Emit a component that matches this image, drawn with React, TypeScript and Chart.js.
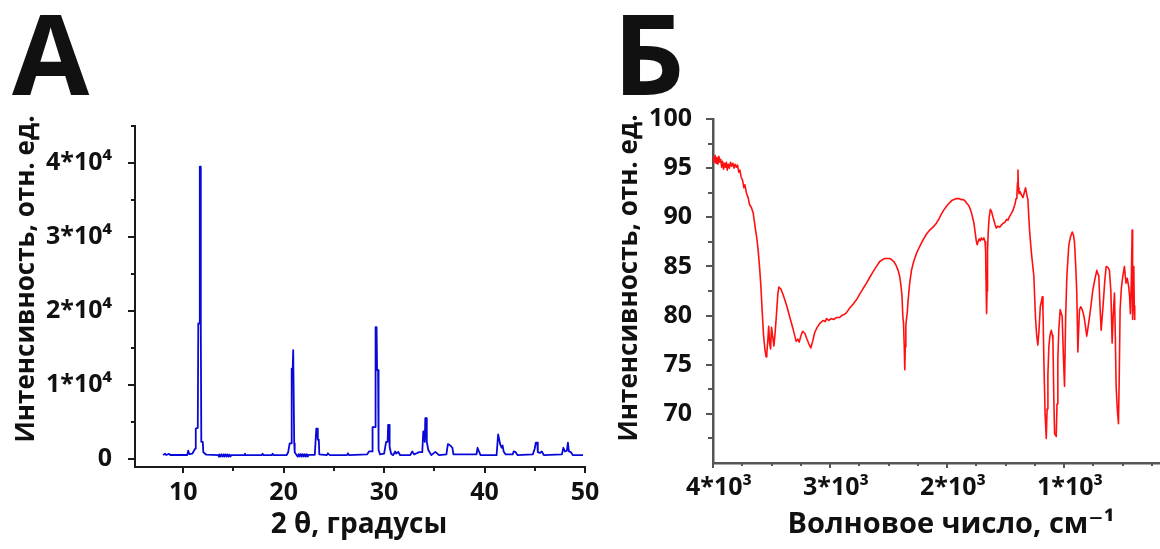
import React, { useEffect, useRef } from "react";
import { Chart, registerables } from "chart.js";

Chart.register(...registerables);

const FONT = "'Open Sans', 'DejaVu Sans', sans-serif";

// ---- Panel А: powder X-ray diffraction pattern ----
const xrdAngle = [
  8.0, 8.2, 8.3, 8.6, 8.7, 10.4, 10.5, 10.6, 10.9, 11.2, 11.25, 11.45, 11.5, 11.6, 11.65, 11.7, 11.75, 11.8, 11.95, 12.0, 12.3,
  13.5, 13.55, 13.6, 13.7, 13.8, 13.9, 14.0, 14.1, 14.2, 14.3, 14.4, 14.5, 14.6, 14.7, 14.8, 15.0,
  16.1, 16.15, 16.2, 17.8, 17.9, 18.0, 18.8, 18.9, 19.0,
  20.3, 20.45, 20.6, 20.75, 20.8, 20.9, 20.95, 21.0, 21.05, 21.1, 21.3,
  21.4, 21.5, 21.6, 21.7, 21.8, 21.9, 22.0, 22.1, 22.2, 22.3, 22.4, 22.5,
  23.1, 23.25, 23.35, 23.4, 23.5, 23.55, 24.3, 24.4, 24.6, 26.3, 26.4, 26.5,
  28.3, 28.5, 28.8, 28.85, 29.1, 29.15, 29.25, 29.3, 29.4, 29.45, 29.6,
  30.0, 30.2, 30.35, 30.4, 30.5, 30.55, 30.7, 30.9, 31.1, 31.2, 31.4, 31.6,
  32.6, 32.8, 33.0, 33.3, 33.5, 33.8, 33.9, 34.0, 34.05, 34.1, 34.2, 34.25, 34.4, 34.7,
  35.1, 35.3, 35.5, 36.2, 36.35, 36.6, 36.8, 36.9, 39.2, 39.3, 39.45, 39.6,
  41.2, 41.35, 41.45, 41.55, 41.7, 41.8, 41.9, 42.1, 42.8, 42.9, 43.1, 43.3,
  44.8, 45.0, 45.1, 45.25, 45.3, 45.5, 45.7, 45.9,
  47.7, 47.85, 48.0, 48.2, 48.3, 48.4, 48.6, 48.8, 49.8,
];
const xrdIntensity = [
  520, 700, 520, 680, 520, 520, 1100, 650, 700, 1400, 4100, 4200, 18300, 18300, 39500, 39500, 18300, 2300, 2300, 900, 560,
  500, 300, 600, 300, 620, 320, 600, 300, 620, 320, 600, 300, 580, 320, 500, 500,
  500, 700, 500, 500, 700, 500, 500, 700, 500,
  520, 900, 2100, 2100, 12200, 12200, 14700, 14700, 2100, 900, 500,
  300, 650, 320, 640, 300, 650, 320, 620, 300, 640, 320, 550,
  550, 4100, 4100, 2600, 2600, 600, 500, 750, 500, 500, 750, 500,
  600, 1000, 1000, 4300, 4300, 17800, 17800, 12000, 12000, 1200, 600,
  700, 2300, 2300, 4600, 4600, 1600, 700, 500, 1000, 700, 950, 500,
  500, 1000, 600, 800, 900, 900, 3700, 3700, 2300, 5500, 5500, 2300, 1200, 500,
  950, 700, 500, 600, 2000, 1800, 1500, 600, 600, 1500, 1000, 500,
  500, 3300, 2700, 2000, 1500, 1800, 1000, 600, 600, 1000, 900, 500,
  600, 1400, 2200, 2200, 900, 800, 1000, 500,
  600, 1500, 1000, 1100, 2200, 1000, 900, 500, 500,
];
const xrdXMajor = [10, 20, 30, 40, 50];
const xrdXMinor = [15, 25, 35, 45];
const xrdYMajor = [0, 10000, 20000, 30000, 40000];
const xrdYLabels = ["0", "1*10⁴", "2*10⁴", "3*10⁴", "4*10⁴"];
const xrdYMinor = [5000, 15000, 25000, 35000, 45000];

// ---- Panel Б: IR spectrum ----
const irWavenumber = [
  4000, 3990, 3982, 3974, 3966, 3958, 3950, 3942, 3934, 3926, 3918, 3910, 3902, 3894, 3886, 3878, 3870, 3860, 3850, 3840,
  3830, 3820, 3810, 3800, 3790, 3780, 3770, 3760, 3748, 3736, 3727, 3715, 3700, 3688, 3672, 3656, 3640, 3626, 3613, 3600,
  3590, 3580, 3568, 3556, 3546, 3540, 3532, 3524, 3516, 3508, 3500, 3490, 3480, 3470, 3456, 3446, 3437, 3420, 3400, 3370,
  3343, 3315, 3290, 3275, 3263, 3250, 3234, 3215, 3200, 3180, 3164, 3148, 3130, 3110, 3087, 3060, 3040, 3030, 3010, 2990,
  2970, 2944, 2920, 2900, 2880, 2859, 2830, 2800, 2774, 2750, 2720, 2688, 2660, 2630, 2603, 2575, 2550, 2532, 2510, 2490,
  2475, 2455, 2435, 2418, 2405, 2395, 2385, 2378, 2372, 2366, 2361, 2357, 2352, 2347, 2340, 2333, 2320, 2304, 2285, 2262,
  2235, 2205, 2175, 2148, 2120, 2091, 2070, 2050, 2030, 2006, 1985, 1960, 1940, 1920, 1900, 1880, 1860, 1849, 1830, 1815,
  1800, 1790, 1780, 1770, 1760, 1750, 1742, 1735, 1725, 1715, 1707, 1695, 1685, 1675, 1670, 1666, 1662, 1658, 1654, 1648,
  1640, 1630, 1620, 1607, 1590, 1579, 1565, 1550, 1536, 1520, 1505, 1490, 1480, 1465, 1450, 1437, 1420, 1410, 1403, 1398,
  1394, 1390, 1385, 1375, 1365, 1351, 1340, 1329, 1320, 1309, 1295, 1280, 1258, 1250, 1243, 1234, 1224, 1214, 1203, 1186,
  1180, 1172, 1162, 1152, 1145, 1138, 1130, 1120, 1109, 1100, 1095, 1088, 1081, 1067, 1060, 1053, 1045, 1033, 1016, 1006,
  996, 986, 976, 959, 945, 930, 920, 911, 900, 891, 882, 875, 868, 858, 845, 835, 825, 806, 795, 782,
  770, 754, 738, 720, 710, 703, 693, 683, 673, 663, 652, 640, 625, 612, 600, 589, 580, 569, 562, 555,
  545, 535, 528, 521, 510, 498, 484, 478, 470, 460, 447, 440, 433, 426, 418, 415, 413, 408, 404, 400, 396,
];
const irIntensity = [
  96.2, 95.6, 96.3, 95.5, 96.1, 95.4, 96.2, 95.6, 95.9, 95.1, 95.7, 94.9, 95.5, 95.1, 95.6, 94.8, 95.4, 95.0, 95.6, 95.2,
  95.5, 95.0, 95.4, 95.1, 95.3, 94.6, 94.8, 94.1, 93.8, 93.0, 93.3, 92.5, 92.0, 91.3, 91.0, 90.4, 89.0, 87.9, 86.5, 84.6,
  82.8, 80.5, 78.0, 76.5, 75.8, 76.2, 77.4, 78.9, 77.2, 76.6, 78.8, 77.9, 76.9, 78.1, 80.4, 82.2, 82.9, 82.7, 82.1, 81.0,
  79.8, 78.6, 77.4, 77.6, 77.3, 77.9, 78.4, 78.2, 77.7, 77.1, 76.7, 77.4, 78.3, 78.8, 79.2, 79.5, 79.4, 79.7, 79.5, 79.7,
  79.6, 79.8, 79.8, 80.0, 80.1, 80.3, 80.8, 81.2, 81.6, 82.1, 82.7, 83.3, 83.9, 84.5, 85.0, 85.5, 85.7, 85.8, 85.8, 85.8,
  85.7, 85.5, 85.1, 84.6, 84.0, 83.2, 82.0, 80.0, 79.2, 77.0, 74.5, 76.8, 79.0, 79.6, 80.3, 81.5, 83.2, 84.6, 85.5, 86.3,
  87.0, 87.7, 88.3, 88.7, 89.0, 89.4, 89.8, 90.3, 90.7, 91.1, 91.4, 91.7, 91.8, 91.9, 91.9, 91.8, 91.8, 91.7, 91.4, 91.2,
  90.8, 90.4, 89.9, 89.4, 88.5, 87.6, 87.2, 87.5, 87.8, 87.6, 87.9, 87.7, 87.9, 87.5, 86.5, 83.0, 80.2, 82.5, 86.5, 88.5,
  90.0, 90.8, 90.6, 90.0, 89.3, 88.9, 89.1, 89.0, 89.2, 89.4, 89.5, 89.8, 89.7, 90.1, 90.4, 90.7, 91.3, 91.9, 92.2, 93.5,
  94.8, 93.0, 92.4, 92.6, 92.3, 92.0, 92.5, 93.0, 92.4, 91.8, 88.7, 86.5, 84.0, 81.5, 79.6, 78.0, 77.0, 78.5, 80.9, 81.9,
  80.5, 75.2, 70.0, 67.5, 70.5, 74.0, 76.8, 78.0, 78.5, 78.0, 77.5, 72.0, 68.0, 67.7, 71.0, 75.5, 78.5, 80.6, 79.9, 76.0,
  72.8, 80.0, 84.0, 87.2, 88.0, 88.5, 88.2, 87.5, 85.0, 82.3, 76.3, 78.5, 80.6, 80.9, 80.6, 80.2, 79.6, 77.9, 78.8, 79.9,
  81.0, 82.6, 83.6, 84.6, 84.2, 84.1, 81.0, 78.5, 80.0, 81.6, 83.5, 85.0, 84.9, 84.6, 82.5, 77.2, 80.0, 82.3, 78.0, 72.8,
  70.5, 69.0, 74.0, 80.6, 82.8, 84.0, 85.0, 84.2, 83.3, 83.8, 82.9, 82.0, 80.2, 83.0, 88.7, 84.0, 79.6, 83.5, 85.0, 81.0, 79.6,
];
const irXMajor = [4000, 3000, 2000, 1000];
const irXLabels = ["4*10³", "3*10³", "2*10³", "1*10³"];
const irXMinor = [3750, 3500, 3250, 2750, 2500, 2250, 1750, 1500, 1250, 750, 500, 250];
const irYMajor = [100, 95, 90, 85, 80, 75, 70];
const irYMinor = [97.5, 92.5, 87.5, 82.5, 77.5, 72.5, 67.5];

type AxisMarks = { major: number[]; minor: number[]; majorLen: number; minorLen: number };
type Caption = { text: string; x: number; y: number; size: number; rotate?: boolean; align?: CanvasTextAlign };

// Major and minor tick marks, drawn outward from the axis lines.
function tickMarks(xm: AxisMarks, ym: AxisMarks, color: string, width: number) {
  return {
    id: "tickMarks",
    afterDraw(chart: any) {
      const { ctx, scales, chartArea } = chart;
      ctx.save();
      ctx.strokeStyle = color;
      ctx.lineWidth = width;
      ctx.beginPath();
      const b = chartArea.bottom;
      const l = chartArea.left;
      const hx = (v: number, len: number) => {
        const p = Math.round(scales.x.getPixelForValue(v));
        ctx.moveTo(p, b);
        ctx.lineTo(p, b + len);
      };
      const hy = (v: number, len: number) => {
        const p = Math.round(scales.y.getPixelForValue(v));
        ctx.moveTo(l, p);
        ctx.lineTo(l - len, p);
      };
      xm.major.forEach((v) => hx(v, xm.majorLen));
      xm.minor.forEach((v) => hx(v, xm.minorLen));
      ym.major.forEach((v) => hy(v, ym.majorLen));
      ym.minor.forEach((v) => hy(v, ym.minorLen));
      ctx.stroke();
      ctx.restore();
    },
  };
}

// Panel letter and axis titles.
function captions(items: Caption[]) {
  return {
    id: "captions",
    afterDraw(chart: any) {
      const ctx = chart.ctx;
      for (const c of items) {
        ctx.save();
        ctx.font = `bold ${c.size}px ${FONT}`;
        ctx.fillStyle = "#111";
        ctx.textAlign = c.align ?? "center";
        ctx.textBaseline = "alphabetic";
        ctx.translate(c.x, c.y);
        if (c.rotate) ctx.rotate(-Math.PI / 2);
        ctx.fillText(c.text, 0, 0);
        ctx.restore();
      }
    },
  };
}

const tickFont = { family: FONT, size: 25, weight: "bold" as const };

function xrdConfig(): any {
  return {
    type: "line",
    data: {
      datasets: [
        {
          data: xrdAngle.map((x, i) => ({ x, y: xrdIntensity[i] })),
          borderColor: "#0808d8",
          borderWidth: 1.8,
          borderJoinStyle: "round",
          pointRadius: 0,
          tension: 0,
          fill: false,
        },
      ],
    },
    options: {
      responsive: false,
      animation: false,
      events: [],
      layout: { padding: { top: 126, right: 20, bottom: 0, left: 0 } },
      plugins: { legend: { display: false }, tooltip: { enabled: false } },
      scales: {
        x: {
          type: "linear",
          min: 5.2,
          max: 50,
          grid: { display: false },
          border: { display: true, color: "#1a1a1a", width: 2 },
          afterBuildTicks: (s: any) => {
            s.ticks = xrdXMajor.map((value) => ({ value }));
          },
          afterFit: (s: any) => {
            s.height = 82;
            s.paddingLeft = 0;
            s.paddingRight = 0;
          },
          ticks: { font: tickFont, color: "#111", padding: 3, maxRotation: 0, autoSkip: false },
        },
        y: {
          type: "linear",
          min: -1100,
          max: 45000,
          grid: { display: false },
          border: { display: true, color: "#1a1a1a", width: 2 },
          afterBuildTicks: (s: any) => {
            s.ticks = xrdYMajor.map((value) => ({ value }));
          },
          afterFit: (s: any) => {
            s.width = 135;
            s.paddingTop = 0;
            s.paddingBottom = 0;
          },
          ticks: {
            font: tickFont,
            color: "#111",
            padding: 15,
            autoSkip: false,
            callback: (v: number) => xrdYLabels[xrdYMajor.indexOf(v)] ?? "",
          },
        },
      },
    },
    plugins: [
      tickMarks(
        { major: xrdXMajor, minor: xrdXMinor, majorLen: 6, minorLen: 4 },
        { major: xrdYMajor, minor: xrdYMinor, majorLen: 7, minorLen: 4 },
        "#1a1a1a",
        2
      ),
      captions([
        { text: "А", x: 12, y: 95, size: 112, align: "left" },
        { text: "Интенсивность, отн. ед.", x: 34, y: 279, size: 26, rotate: true },
        { text: "2 θ, градусы", x: 359, y: 533, size: 28 },
      ]),
    ],
  };
}

function irConfig(): any {
  return {
    type: "line",
    data: {
      datasets: [
        {
          data: irWavenumber.map((x, i) => ({ x, y: irIntensity[i] })),
          borderColor: "#ff1010",
          borderWidth: 1.6,
          borderJoinStyle: "round",
          pointRadius: 0,
          tension: 0,
          fill: false,
        },
      ],
    },
    options: {
      responsive: false,
      animation: false,
      events: [],
      layout: { padding: { top: 119, right: 0, bottom: 0, left: 0 } },
      plugins: { legend: { display: false }, tooltip: { enabled: false } },
      scales: {
        x: {
          type: "linear",
          reverse: true,
          min: 180,
          max: 4000,
          grid: { display: false },
          border: { display: true, color: "#555", width: 2.5 },
          afterBuildTicks: (s: any) => {
            s.ticks = irXMajor.map((value) => ({ value }));
          },
          afterFit: (s: any) => {
            s.height = 86;
            s.paddingLeft = 0;
            s.paddingRight = 0;
          },
          ticks: {
            font: tickFont,
            color: "#111",
            padding: 2,
            labelOffset: 6,
            maxRotation: 0,
            autoSkip: false,
            callback: (v: number) => irXLabels[irXMajor.indexOf(v)] ?? "",
          },
        },
        y: {
          type: "linear",
          min: 65,
          max: 100,
          grid: { display: false },
          border: { display: true, color: "#555", width: 2.5 },
          afterBuildTicks: (s: any) => {
            s.ticks = irYMajor.map((value) => ({ value }));
          },
          afterFit: (s: any) => {
            s.width = 108;
            s.paddingTop = 0;
            s.paddingBottom = 0;
          },
          ticks: { font: tickFont, color: "#111", padding: 13, autoSkip: false },
        },
      },
    },
    plugins: [
      tickMarks(
        { major: irXMajor, minor: irXMinor, majorLen: 5, minorLen: 3 },
        { major: irYMajor, minor: irYMinor, majorLen: 7, minorLen: 5 },
        "#555",
        2
      ),
      captions([
        { text: "Б", x: 8, y: 95, size: 112, align: "left" },
        { text: "Интенсивность, отн. ед.", x: 32, y: 278, size: 26, rotate: true },
        { text: "Волновое число, см⁻¹", x: 346, y: 533, size: 29 },
      ]),
    ],
  };
}

function Panel({ left, width, height, make }: { left: number; width: number; height: number; make: () => any }) {
  const ref = useRef<HTMLCanvasElement | null>(null);
  useEffect(() => {
    if (!ref.current) return;
    const chart = new Chart(ref.current, make());
    return () => chart.destroy();
  }, [make]);
  return (
    <canvas
      ref={ref}
      width={width}
      height={height}
      style={{ position: "absolute", left, top: 0, width, height }}
    />
  );
}

export default function App() {
  return (
    <div style={{ position: "fixed", left: 0, top: 0, width: 1160, height: 549, background: "#fff", overflow: "hidden" }}>
      <Panel left={0} width={605} height={549} make={xrdConfig} />
      <Panel left={605} width={555} height={549} make={irConfig} />
    </div>
  );
}
